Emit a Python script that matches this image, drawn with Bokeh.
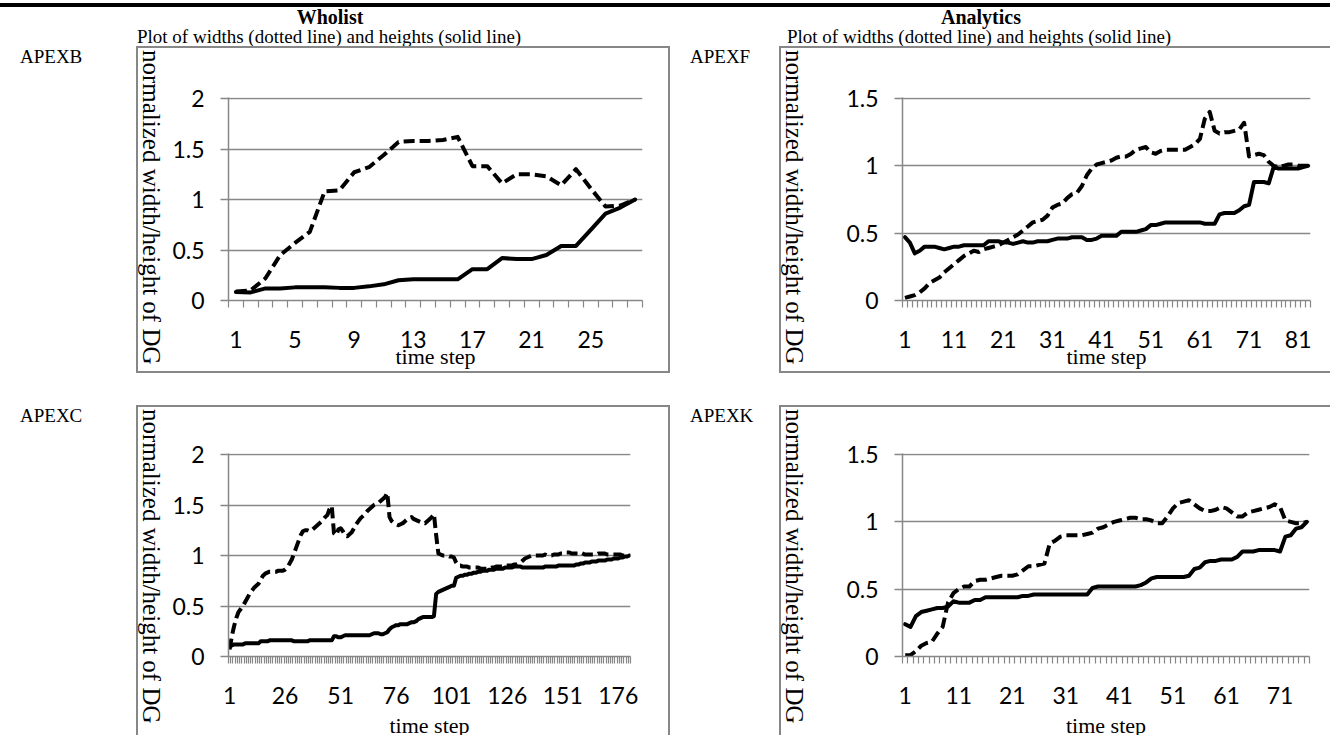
from bokeh.plotting import figure
from bokeh.models import Range1d, FixedTicker, Div, Spacer
from bokeh.layouts import column, row
from bokeh.embed import file_html
from bokeh.resources import INLINE

# ---------------- data ----------------
wholist_title = "Wholist"
analytics_title = "Analytics"
subtitle = "Plot of widths (dotted line) and heights (solid line)"
y_axis_title = "normalized width/height of DG"
x_axis_title = "time step"
row_names = ["APEXB", "APEXF", "APEXC", "APEXK"]

wholist_y_ticks = [0, 0.5, 1, 1.5, 2]
wholist_y_labels = ["0", "0.5", "1", "1.5", "2"]
analytics_y_ticks = [0, 0.5, 1, 1.5]
analytics_y_labels = ["0", "0.5", "1", "1.5"]

apexb_x_ticks = [1, 5, 9, 13, 17, 21, 25]
apexb_x_labels = ["1", "5", "9", "13", "17", "21", "25"]
apexf_x_ticks = [1, 11, 21, 31, 41, 51, 61, 71, 81]
apexf_x_labels = ["1", "11", "21", "31", "41", "51", "61", "71", "81"]
apexc_x_ticks = [1, 26, 51, 76, 101, 126, 151, 176]
apexc_x_labels = ["1", "26", "51", "76", "101", "126", "151", "176"]
apexk_x_ticks = [1, 11, 21, 31, 41, 51, 61, 71]
apexk_x_labels = ["1", "11", "21", "31", "41", "51", "61", "71"]

# APEXB (28 time steps)
apexb_widths = [0.09, 0.10, 0.22, 0.45, 0.57, 0.68, 1.08, 1.09, 1.27, 1.32,
                1.44, 1.57, 1.58, 1.58, 1.59, 1.62, 1.33, 1.33, 1.16, 1.25,
                1.25, 1.23, 1.14, 1.30, 1.11, 0.93, 0.94, 1.00]
apexb_heights = [0.085, 0.08, 0.12, 0.12, 0.13, 0.13, 0.13, 0.125, 0.125, 0.14,
                 0.16, 0.20, 0.21, 0.21, 0.21, 0.21, 0.31, 0.31, 0.42, 0.41,
                 0.41, 0.45, 0.54, 0.54, 0.70, 0.86, 0.92, 1.00]

# APEXF (83 time steps)
apexf_widths = [0.02, 0.03, 0.04, 0.06, 0.09, 0.13, 0.15, 0.17, 0.21, 0.24,
                0.27, 0.30, 0.33, 0.35, 0.37, 0.36, 0.38, 0.39, 0.40, 0.41,
                0.43, 0.45, 0.47, 0.49, 0.52, 0.55, 0.58, 0.59, 0.60, 0.63,
                0.69, 0.71, 0.72, 0.76, 0.79, 0.80, 0.85, 0.93, 0.98, 1.01,
                1.02, 1.03, 1.04, 1.06, 1.07, 1.07, 1.09, 1.12, 1.13, 1.14,
                1.10, 1.09, 1.11, 1.12, 1.12, 1.12, 1.12, 1.12, 1.14, 1.16,
                1.20, 1.35, 1.40, 1.26, 1.24, 1.25, 1.25, 1.26, 1.27, 1.32,
                1.07, 1.08, 1.09, 1.08, 1.03, 1.00, 0.99, 1.00, 1.01, 1.01,
                1.00, 1.00, 1.00]
apexf_heights = [0.47, 0.43, 0.35, 0.37, 0.40, 0.40, 0.40, 0.39, 0.38, 0.39,
                 0.40, 0.40, 0.41, 0.41, 0.41, 0.41, 0.41, 0.44, 0.44, 0.44,
                 0.43, 0.43, 0.42, 0.43, 0.44, 0.43, 0.43, 0.44, 0.44, 0.44,
                 0.45, 0.46, 0.46, 0.46, 0.47, 0.47, 0.47, 0.45, 0.45, 0.46,
                 0.48, 0.48, 0.48, 0.48, 0.51, 0.51, 0.51, 0.51, 0.52, 0.53,
                 0.56, 0.56, 0.57, 0.58, 0.58, 0.58, 0.58, 0.58, 0.58, 0.58,
                 0.58, 0.57, 0.57, 0.57, 0.64, 0.65, 0.65, 0.65, 0.67, 0.70,
                 0.71, 0.88, 0.88, 0.88, 0.87, 0.99, 0.98, 0.98, 0.98, 0.98,
                 0.98, 0.99, 1.00]

# APEXC (181 time steps)
apexc_widths = [0.07, 0.20, 0.30, 0.38, 0.44, 0.47, 0.50, 0.54, 0.58, 0.62,
                0.65, 0.68, 0.70, 0.72, 0.76, 0.80, 0.82, 0.83, 0.84, 0.84,
                0.84, 0.84, 0.85, 0.85, 0.85, 0.86, 0.88, 0.92, 0.96, 1.02,
                1.08, 1.14, 1.20, 1.24, 1.25, 1.25, 1.24, 1.25, 1.27, 1.29,
                1.31, 1.33, 1.35, 1.38, 1.40, 1.46, 1.49, 1.22, 1.20, 1.26,
                1.27, 1.24, 1.20, 1.19, 1.21, 1.23, 1.27, 1.31, 1.34, 1.37,
                1.39, 1.41, 1.44, 1.46, 1.48, 1.50, 1.51, 1.52, 1.54, 1.56,
                1.58, 1.62, 1.38, 1.34, 1.32, 1.31, 1.30, 1.31, 1.32, 1.34,
                1.36, 1.37, 1.38, 1.36, 1.35, 1.34, 1.33, 1.33, 1.32, 1.34,
                1.36, 1.38, 1.41, 1.20, 1.02, 1.01, 1.00, 1.00, 1.00, 0.99,
                0.99, 0.98, 0.93, 0.90, 0.90, 0.89, 0.89, 0.89, 0.88, 0.88,
                0.88, 0.88, 0.88, 0.87, 0.87, 0.87, 0.87, 0.87, 0.88, 0.88,
                0.89, 0.89, 0.89, 0.89, 0.90, 0.90, 0.90, 0.90, 0.91, 0.91,
                0.92, 0.93, 0.95, 0.97, 0.98, 0.99, 1.00, 1.00, 1.00, 1.00,
                1.00, 1.00, 1.01, 1.00, 1.00, 1.00, 1.01, 1.01, 1.01, 1.02,
                1.02, 1.03, 1.03, 1.03, 1.02, 1.02, 1.02, 1.02, 1.03, 1.02,
                1.01, 1.01, 1.01, 1.01, 1.01, 1.01, 1.02, 1.02, 1.02, 1.02,
                1.01, 1.01, 1.01, 1.01, 1.01, 1.01, 1.01, 1.00, 1.00, 1.00,
                1.00]
apexc_heights = [0.10, 0.11, 0.12, 0.12, 0.12, 0.12, 0.12, 0.13, 0.13, 0.13,
                 0.13, 0.13, 0.13, 0.13, 0.15, 0.15, 0.15, 0.15, 0.16, 0.16,
                 0.16, 0.16, 0.16, 0.16, 0.16, 0.16, 0.16, 0.16, 0.16, 0.15,
                 0.15, 0.15, 0.15, 0.15, 0.15, 0.15, 0.16, 0.16, 0.16, 0.16,
                 0.16, 0.16, 0.16, 0.16, 0.16, 0.16, 0.16, 0.20, 0.20, 0.19,
                 0.19, 0.20, 0.21, 0.21, 0.21, 0.21, 0.21, 0.21, 0.21, 0.21,
                 0.21, 0.21, 0.21, 0.21, 0.22, 0.23, 0.23, 0.23, 0.22, 0.22,
                 0.23, 0.24, 0.27, 0.29, 0.30, 0.31, 0.31, 0.32, 0.32, 0.32,
                 0.32, 0.33, 0.34, 0.34, 0.35, 0.37, 0.38, 0.39, 0.39, 0.39,
                 0.39, 0.39, 0.40, 0.62, 0.64, 0.65, 0.66, 0.67, 0.68, 0.69,
                 0.70, 0.70, 0.78, 0.79, 0.80, 0.80, 0.81, 0.81, 0.82, 0.82,
                 0.83, 0.83, 0.84, 0.84, 0.85, 0.85, 0.85, 0.86, 0.86, 0.86,
                 0.87, 0.87, 0.87, 0.87, 0.88, 0.88, 0.88, 0.88, 0.89, 0.89,
                 0.89, 0.89, 0.88, 0.88, 0.88, 0.88, 0.88, 0.88, 0.88, 0.88,
                 0.88, 0.88, 0.89, 0.89, 0.89, 0.89, 0.89, 0.89, 0.90, 0.90,
                 0.90, 0.90, 0.90, 0.90, 0.90, 0.90, 0.91, 0.91, 0.92, 0.92,
                 0.93, 0.93, 0.93, 0.94, 0.94, 0.94, 0.95, 0.95, 0.95, 0.95,
                 0.96, 0.96, 0.96, 0.97, 0.97, 0.97, 0.98, 0.98, 0.99, 0.99,
                 1.00]

# APEXK (76 time steps)
apexk_widths = [0.01, 0.01, 0.04, 0.08, 0.10, 0.11, 0.17, 0.22, 0.40, 0.47,
                0.50, 0.52, 0.52, 0.56, 0.57, 0.57, 0.58, 0.59, 0.60, 0.60,
                0.60, 0.61, 0.64, 0.67, 0.67, 0.68, 0.69, 0.84, 0.86, 0.89,
                0.90, 0.90, 0.90, 0.90, 0.91, 0.92, 0.95, 0.96, 0.98, 1.00,
                1.01, 1.02, 1.03, 1.03, 1.02, 1.02, 1.01, 0.99, 0.99, 1.04,
                1.10, 1.14, 1.15, 1.16, 1.13, 1.10, 1.08, 1.08, 1.09, 1.11,
                1.10, 1.07, 1.04, 1.04, 1.07, 1.08, 1.09, 1.10, 1.11, 1.13,
                1.11, 1.01, 1.00, 0.99, 0.99, 1.00]
apexk_heights = [0.24, 0.22, 0.30, 0.33, 0.34, 0.35, 0.36, 0.36, 0.37, 0.41,
                 0.40, 0.40, 0.40, 0.42, 0.42, 0.44, 0.44, 0.44, 0.44, 0.44,
                 0.44, 0.44, 0.45, 0.45, 0.46, 0.46, 0.46, 0.46, 0.46, 0.46,
                 0.46, 0.46, 0.46, 0.46, 0.46, 0.51, 0.52, 0.52, 0.52, 0.52,
                 0.52, 0.52, 0.52, 0.52, 0.53, 0.55, 0.58, 0.59, 0.59, 0.59,
                 0.59, 0.59, 0.59, 0.60, 0.65, 0.66, 0.70, 0.71, 0.71, 0.72,
                 0.72, 0.72, 0.74, 0.78, 0.78, 0.78, 0.79, 0.79, 0.79, 0.79,
                 0.78, 0.89, 0.90, 0.95, 0.96, 1.00]

# ---------------- style ----------------
GRID = "#878787"
SERIF = "Liberation Serif"
SANS = "Lato"
FRAME_H = 203
TITLE_W = 28


def chart(widths, heights, x_ticks, x_labels, y_ticks, y_labels,
          canvas_w, mb_left, frame_w, mb_top, mb_bottom, xlabel_standoff):
    n = len(widths)
    y_end = y_ticks[-1] * 1.005
    p = figure(frame_width=frame_w, frame_height=FRAME_H,
               min_border_left=mb_left,
               min_border_right=canvas_w - mb_left - frame_w,
               min_border_top=mb_top, min_border_bottom=mb_bottom,
               x_range=Range1d(0.5, n + 0.5), y_range=Range1d(0, y_end),
               toolbar_location=None, output_backend="svg", margin=0,
               outline_line_color=None, border_fill_color="white",
               background_fill_color="white")
    p.xgrid.visible = False
    p.ygrid.ticker = FixedTicker(ticks=y_ticks)
    p.ygrid.grid_line_color = GRID
    p.ygrid.grid_line_width = 1.5

    xa = p.xaxis[0]
    xa.ticker = FixedTicker(ticks=x_ticks,
                            minor_ticks=[k + 0.5 for k in range(n + 1)])
    xa.major_label_overrides = dict(zip(x_ticks, x_labels))
    xa.axis_line_color = GRID
    xa.axis_line_width = 1.5
    xa.major_tick_out = 0
    xa.major_tick_in = 0
    xa.major_tick_line_color = None
    xa.minor_tick_out = 7
    xa.minor_tick_in = 0
    xa.minor_tick_line_color = GRID
    xa.minor_tick_line_width = 1.2
    xa.major_label_standoff = 23
    xa.major_label_text_font = SANS
    xa.major_label_text_font_size = "23px"
    xa.major_label_text_color = "black"
    xa.axis_label = x_axis_title
    xa.axis_label_text_font = SERIF
    xa.axis_label_text_font_size = "22px"
    xa.axis_label_text_font_style = "normal"
    xa.axis_label_text_color = "black"
    xa.axis_label_standoff = xlabel_standoff

    ya = p.yaxis[0]
    ya.ticker = FixedTicker(ticks=y_ticks)
    ya.major_label_overrides = dict(zip(y_ticks, y_labels))
    ya.axis_line_color = GRID
    ya.axis_line_width = 1.5
    ya.major_tick_out = 8
    ya.major_tick_in = 0
    ya.major_tick_line_color = GRID
    ya.major_tick_line_width = 1.5
    ya.minor_tick_line_color = None
    ya.major_label_standoff = 16
    ya.major_label_text_font = SANS
    ya.major_label_text_font_size = "23px"
    ya.major_label_text_color = "black"

    xs = list(range(1, n + 1))
    p.line(xs, heights, line_color="black", line_width=4,
           line_join="round", line_cap="round")
    p.line(xs, widths, line_color="black", line_width=4,
           line_dash="11 5", line_join="round")
    return p


def box_div(w, h, inner):
    html = ('<div style="position:relative;width:%dpx;height:%dpx;'
            'font-family:\'%s\';color:#000;">%s</div>' % (w, h, SERIF, inner))
    return Div(text=html, width=w, height=h, margin=0)


def txt(left, top, s, size=19, bold=False, width=None, center=False):
    style = ("position:absolute;left:%dpx;top:%dpx;font-size:%dpx;"
             "line-height:%dpx;white-space:nowrap;" % (left, top, size, size))
    if bold:
        style += "font-weight:bold;"
    if width is not None:
        style += "width:%dpx;" % width
    if center:
        style += "text-align:center;"
    return '<div style="%s">%s</div>' % (style, s)


def y_title_div(h):
    inner = ('<div style="position:absolute;left:26px;top:2px;'
             'transform-origin:0 0;transform:rotate(90deg);'
             'font-size:25px;line-height:25px;white-space:nowrap;">%s</div>'
             % y_axis_title)
    return box_div(TITLE_W, h, inner)


def boxed(fig, h):
    return row(y_title_div(h), fig, margin=0,
               styles={"outline": "2px solid " + GRID})


header = box_div(1330, 48,
                 '<div style="position:absolute;left:0;top:3px;width:1330px;height:4px;background:#000;"></div>'
                 + txt(130, 7, wholist_title, size=20, bold=True, width=400, center=True)
                 + txt(781, 7, analytics_title, size=20, bold=True, width=400, center=True)
                 + txt(137, 27, subtitle)
                 + txt(787, 27, subtitle))

ROW1_H = 320
ROW2_H = 331
LEFT_W = 530 - TITLE_W
RIGHT_W = 549 - TITLE_W

f1 = chart(apexb_widths, apexb_heights, apexb_x_ticks, apexb_x_labels,
           wholist_y_ticks, wholist_y_labels, LEFT_W, 62, 414, 49, 68, -7)
f2 = chart(apexf_widths, apexf_heights, apexf_x_ticks, apexf_x_labels,
           analytics_y_ticks, analytics_y_labels, RIGHT_W, 93, 408, 49, 68, -7)
f3 = chart(apexc_widths, apexc_heights, apexc_x_ticks, apexc_x_labels,
           wholist_y_ticks, wholist_y_labels, LEFT_W, 62, 402, 46, 82, 6)
f4 = chart(apexk_widths, apexk_heights, apexk_x_ticks, apexk_x_labels,
           analytics_y_ticks, analytics_y_labels, RIGHT_W, 93, 407, 46, 82, 6)

lab1 = box_div(138, ROW1_H, txt(20, -1, row_names[0]))
lab2 = box_div(113, ROW1_H, txt(22, -1, row_names[1]))
lab3 = box_div(138, ROW2_H, txt(20, -1, row_names[2]))
lab4 = box_div(113, ROW2_H, txt(22, -1, row_names[3]))

gap = Spacer(width=1330, height=36, margin=0)

layout = column(header,
                row(lab1, boxed(f1, ROW1_H), lab2, boxed(f2, ROW1_H), margin=0),
                gap,
                row(lab3, boxed(f3, ROW2_H), lab4, boxed(f4, ROW2_H), margin=0),
                margin=0)

open("out.html", "w").write(file_html(layout, INLINE))
